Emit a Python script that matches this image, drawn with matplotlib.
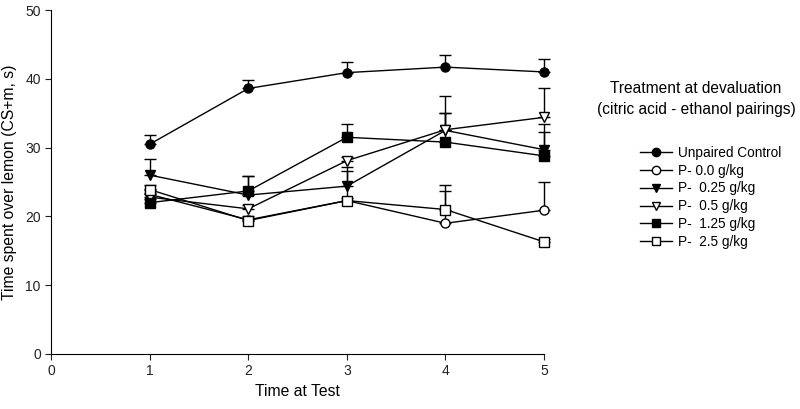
import numpy as np
from matplotlib import pyplot as plt
from matplotlib.lines import Line2D

plt.rcParams['font.family'] = ['Liberation Sans', 'DejaVu Sans']

# Time at test
sessions = [1, 2, 3, 4, 5]

labels = ['Unpaired Control', 'P- 0.0 g/kg', 'P-  0.25 g/kg',
          'P-  0.5 g/kg', 'P-  1.25 g/kg', 'P-  2.5 g/kg']

unpaired = [30.5, 38.6, 40.9, 41.7, 41.0]
p_000 = [23.2, 19.5, 22.3, 19.0, 20.9]
p_025 = [26.0, 23.1, 24.4, 32.5, 29.7]
p_050 = [22.8, 21.1, 28.1, 32.6, 34.4]
p_125 = [22.0, 23.7, 31.5, 30.8, 28.8]
p_250 = [23.9, 19.4, 22.3, 21.0, 16.3]

# upper SEM
err_unpaired = [1.3, 1.3, 1.5, 1.8, 1.9]
err_000 = [0.8, 0.5, 4.9, 4.7, 4.1]
err_025 = [2.4, 2.8, 2.2, 2.5, 3.8]
err_050 = [0.6, 0.6, 0.5, 4.9, 4.2]
err_125 = [0.6, 2.2, 1.9, 4.2, 3.5]
err_250 = [0.6, 0.4, 0.4, 3.5, 0.4]

series = [unpaired, p_000, p_025, p_050, p_125, p_250]
errors = [err_unpaired, err_000, err_025, err_050, err_125, err_250]
markers = ['o', 'o', 'v', 'v', 's', 's']
fills = ['black', 'white', 'black', 'white', 'black', 'white']

fig = plt.figure(figsize=(8, 4.09), dpi=100)
ax = fig.add_axes([0.064, 0.1345, 0.616, 0.841])

handles = []
for y, e, m, fc, lab in zip(series, errors, markers, fills, labels):
    cont = ax.errorbar(sessions, y, yerr=[np.zeros(len(e)), e], color='black',
                       lw=1, marker=m, ms=6.5, mfc=fc, mec='black', mew=1,
                       capsize=4, elinewidth=1, capthick=1)
    for art in cont.lines[:1] + tuple(cont.lines[1]) + tuple(cont.lines[2]):
        art.set_clip_on(False)
    handles.append(Line2D([], [], color='black', lw=1, marker=m, ms=6,
                          mfc=fc, mec='black', mew=1, label=lab))

ax.set_xlim(0, 5)
ax.set_ylim(0, 50)
ax.set_xticks([0, 1, 2, 3, 4, 5])
ax.set_yticks([0, 10, 20, 30, 40, 50])
ax.spines['top'].set_visible(False)
ax.spines['right'].set_visible(False)
ax.tick_params(direction='out', length=4, labelsize=10, colors='#222222')
ax.set_xlabel('Time at Test', fontsize=11.3, labelpad=4)
ax.set_ylabel('Time spent over lemon (CS+m, s)', fontsize=11.3, labelpad=6)

fig.text(0.87, 0.757, 'Treatment at devaluation\n(citric acid - ethanol pairings)',
         ha='center', va='center', fontsize=11.2, linespacing=1.5)
fig.legend(handles=handles, loc='upper left', bbox_to_anchor=(0.791, 0.66),
           frameon=False, fontsize=9.8, handlelength=2.4, handletextpad=0.45,
           labelspacing=0.28, borderpad=0)

fig.savefig('out.png', dpi=100)
